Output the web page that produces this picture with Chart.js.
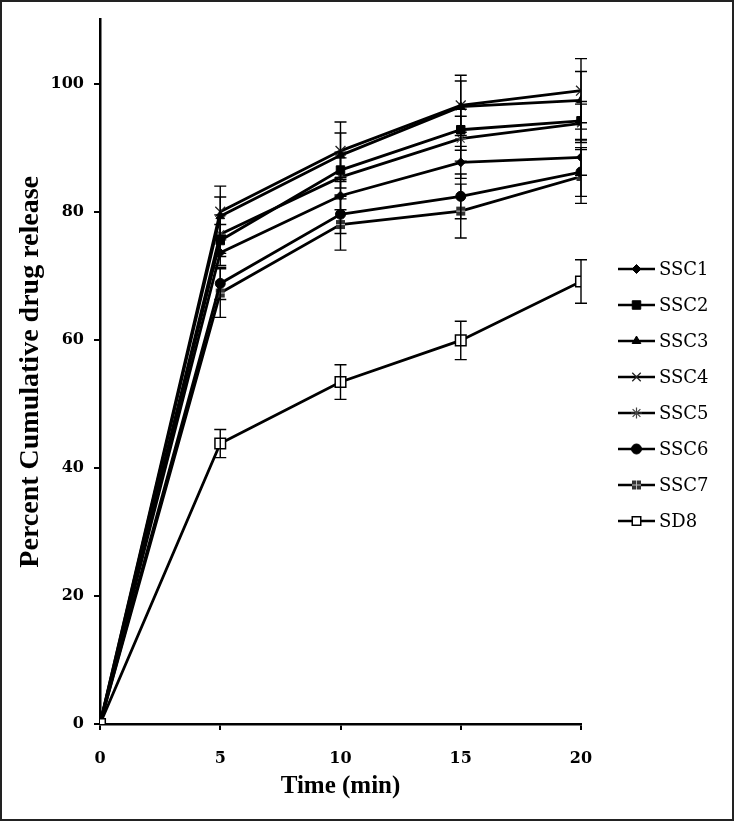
<!DOCTYPE html>
<html>
<head>
<meta charset="utf-8">
<script src="https://cdn.jsdelivr.net/npm/chart.js@4.4.1/dist/chart.umd.min.js"></script>
<style>
  html, body { margin: 0; padding: 0; background: #fff; }
  #wrap { position: relative; width: 734px; height: 821px; }
</style>
</head>
<body>
<div id="wrap"><canvas id="chart"></canvas></div>
<script>
// time points (min)
const times = [0, 5, 10, 15, 20];
const yTicks = [0, 20, 40, 60, 80, 100];

const seriesNames = ["SSC1", "SSC2", "SSC3", "SSC4", "SSC5", "SSC6", "SSC7", "SD8"];

// percent cumulative drug release
const ssc1 = [0, 73.6, 82.5, 87.7, 88.5];
const ssc2 = [0, 75.5, 86.5, 92.8, 94.2];
const ssc3 = [0, 79.3, 88.8, 96.4, 97.4];
const ssc4 = [0, 80.0, 89.5, 96.6, 98.9];
const ssc5 = [0, 76.5, 85.4, 91.4, 93.8];
const ssc6 = [0, 68.8, 79.6, 82.4, 86.2];
const ssc7 = [0, 67.3, 78.0, 80.1, 85.5];
const sd8 = [0, 43.8, 53.4, 59.9, 69.1];

// error bar half-lengths
const ssc1Err = [0, 2.0, 2.2, 2.5, 2.8];
const ssc2Err = [0, 2.5, 2.8, 3.2, 3.0];
const ssc3Err = [0, 3.0, 3.5, 4.0, 4.5];
const ssc4Err = [0, 4.0, 4.5, 4.7, 5.0];
const ssc5Err = [0, 3.0, 3.0, 3.5, 3.0];
const ssc6Err = [0, 2.5, 3.0, 3.5, 3.8];
const ssc7Err = [0, 3.8, 4.0, 4.2, 4.2];
const sd8Err = [0, 2.2, 2.7, 3.0, 3.4];

const values = [ssc1, ssc2, ssc3, ssc4, ssc5, ssc6, ssc7, sd8];
const errors = [ssc1Err, ssc2Err, ssc3Err, ssc4Err, ssc5Err, ssc6Err, ssc7Err, sd8Err];

// square with a light cross, like the SSC7 marker
const makeGridSquare = () => {
  const c = document.createElement("canvas");
  c.width = 11;
  c.height = 11;
  const g = c.getContext("2d");
  g.fillStyle = "#333";
  g.fillRect(1, 1, 9, 9);
  g.strokeStyle = "#bbb";
  g.lineWidth = 1;
  g.beginPath();
  g.moveTo(5.5, 1); g.lineTo(5.5, 10);
  g.moveTo(1, 5.5); g.lineTo(10, 5.5);
  g.stroke();
  return c;
};

const markers = [
  { pointStyle: "rectRot", radius: 4.5, bg: "#000", border: "#000", bw: 1 },
  { pointStyle: "rect", radius: 6, bg: "#000", border: "#000", bw: 1 },
  { pointStyle: "triangle", radius: 5, bg: "#000", border: "#000", bw: 1 },
  { pointStyle: "crossRot", radius: 7, bg: "#000", border: "#222", bw: 1.3 },
  { pointStyle: "star", radius: 5.5, bg: "#555", border: "#444", bw: 1.2 },
  { pointStyle: "circle", radius: 5, bg: "#000", border: "#000", bw: 1 },
  { pointStyle: makeGridSquare(), radius: 5, bg: "#333", border: "#333", bw: 1 },
  { pointStyle: "rect", radius: 7.5, bg: "#fff", border: "#000", bw: 1.5 }
];

const datasets = seriesNames.map((name, i) => ({
  label: name,
  data: times.map((t, j) => ({ x: t, y: values[i][j] })),
  order: name === "SD8" ? -1 : i,
  borderColor: "#000",
  borderWidth: 2.8,
  backgroundColor: markers[i].bg,
  pointStyle: markers[i].pointStyle,
  pointRadius: markers[i].radius,
  pointBackgroundColor: markers[i].bg,
  pointBorderColor: markers[i].border,
  pointBorderWidth: markers[i].bw,
  tension: 0,
  fill: false
}));

const errorBars = {
  id: "errorBars",
  afterDatasetsDraw(chart) {
    const { ctx, scales } = chart;
    ctx.save();
    ctx.strokeStyle = "#000";
    ctx.lineWidth = 1.4;
    errors.forEach((errs, i) => {
      errs.forEach((e, j) => {
        if (!e) {
          return;
        }
        const x = scales.x.getPixelForValue(times[j]);
        const top = scales.y.getPixelForValue(values[i][j] + e);
        const bottom = scales.y.getPixelForValue(values[i][j] - e);
        ctx.beginPath();
        ctx.moveTo(x, top); ctx.lineTo(x, bottom);
        ctx.moveTo(x - 6, top); ctx.lineTo(x + 6, top);
        ctx.moveTo(x - 6, bottom); ctx.lineTo(x + 6, bottom);
        ctx.stroke();
      });
    });
    ctx.restore();
  }
};

const sideLegend = {
  id: "sideLegend",
  afterDraw(chart) {
    const { ctx } = chart;
    const x0 = 618;
    const y0 = 269;
    const step = 36;
    ctx.save();
    ctx.font = "18px 'DejaVu Serif'";
    ctx.textBaseline = "middle";
    ctx.fillStyle = "#000";
    seriesNames.forEach((name, i) => {
      const y = y0 + i * step;
      ctx.strokeStyle = "#000";
      ctx.lineWidth = 2.5;
      ctx.beginPath();
      ctx.moveTo(x0, y);
      ctx.lineTo(x0 + 37, y);
      ctx.stroke();
      const m = markers[i];
      ctx.fillStyle = m.bg;
      ctx.strokeStyle = m.border;
      ctx.lineWidth = m.bw;
      if (Chart.helpers && Chart.helpers.drawPoint) {
        Chart.helpers.drawPoint(ctx, {
          pointStyle: m.pointStyle,
          radius: Math.min(m.radius, 6),
          borderWidth: m.bw,
          rotation: 0
        }, x0 + 18.5, y);
      }
      ctx.fillStyle = "#000";
      ctx.fillText(name, x0 + 41, y + 1);
    });
    ctx.restore();
  }
};

const frame = {
  id: "frame",
  afterDraw(chart) {
    const { ctx, width, height } = chart;
    ctx.save();
    ctx.strokeStyle = "#222";
    ctx.lineWidth = 2;
    ctx.strokeRect(1, 1, width - 2, height - 2);
    ctx.restore();
  }
};

new Chart(document.getElementById("chart"), {
  type: "line",
  data: { datasets },
  plugins: [errorBars, sideLegend, frame],
  options: {
    responsive: true,
    maintainAspectRatio: false,
    animation: false,
    layout: {
      padding: { left: 10, right: 153, top: 12, bottom: 15 }
    },
    plugins: {
      legend: { display: false },
      tooltip: { enabled: false }
    },
    scales: {
      x: {
        type: "linear",
        min: 0,
        max: 20,
        afterFit: (scale) => { scale.height = 82; },
        ticks: {
          stepSize: 5,
          padding: 19,
          color: "#000",
          font: { family: "'DejaVu Serif'", size: 16, weight: "bold" }
        },
        grid: {
          drawOnChartArea: false,
          drawTicks: true,
          tickLength: 6,
          color: "#000",
          lineWidth: 2
        },
        border: { display: true, color: "#000", width: 2.5 },
        title: {
          display: true,
          text: "Time (min)",
          color: "#000",
          font: { family: "'Liberation Serif'", size: 25, weight: "bold" }
        }
      },
      y: {
        type: "linear",
        min: 0,
        max: 110,
        afterFit: (scale) => { scale.width = 90; },
        afterBuildTicks: (scale) => {
          scale.ticks = yTicks.map((v) => ({ value: v }));
        },
        ticks: {
          padding: 10,
          color: "#000",
          font: { family: "'DejaVu Serif'", size: 16, weight: "bold" }
        },
        grid: {
          drawOnChartArea: false,
          drawTicks: true,
          tickLength: 6,
          color: "#000",
          lineWidth: 2
        },
        border: { display: true, color: "#000", width: 2.5 },
        title: {
          display: true,
          text: "Percent Cumulative drug release",
          color: "#000",
          font: { family: "'Liberation Serif'", size: 28, weight: "bold" }
        }
      }
    }
  }
});
</script>
</body>
</html>
